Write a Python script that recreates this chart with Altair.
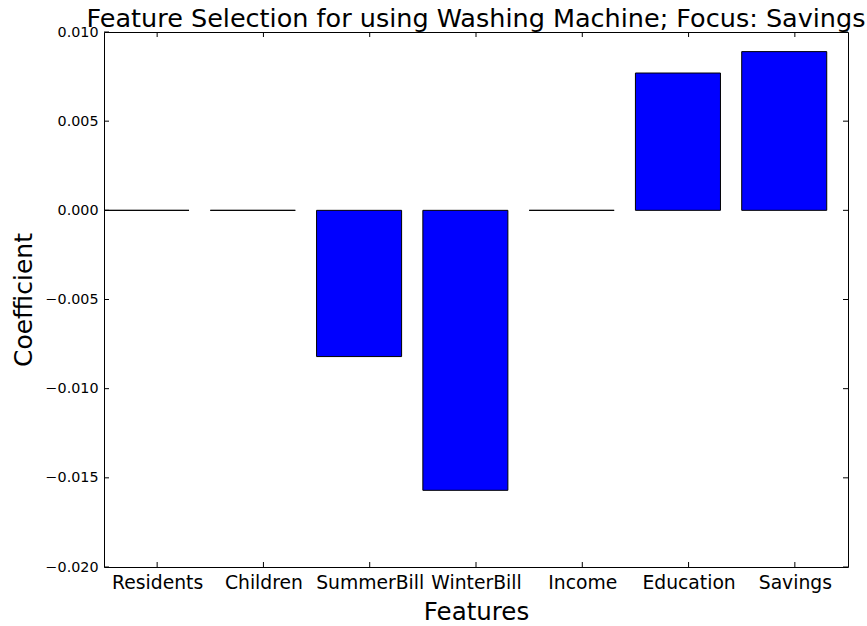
import altair as alt
import pandas as pd

# Lasso coefficients per feature
features = ["Residents", "Children", "SummerBill", "WinterBill", "Income", "Education", "Savings"]
coefficients = [0.0, 0.0, -0.0082, -0.0157, 0.0, 0.0077, 0.0089]
y_ticks = [-0.020, -0.015, -0.010, -0.005, 0.000, 0.005, 0.010]

W, H = 744, 535
FONT = "DejaVu Sans"

bars = pd.DataFrame({
    "feature": features,
    "coef": coefficients,
    "left": [i for i in range(len(features))],
    "right": [i + 0.8 for i in range(len(features))],
})
xtick_df = pd.DataFrame({"left": [i + 0.5 for i in range(len(features))]})
ytick_df = pd.DataFrame({"coef": y_ticks})

label_expr = "[" + ",".join("'%s'" % f for f in features) + "][floor(datum.value)]"

x_scale = alt.Scale(domain=[0, len(features)], nice=False, zero=False)
y_scale = alt.Scale(domain=[y_ticks[0], y_ticks[-1]], nice=False)

x_axis = alt.Axis(values=xtick_df["left"].tolist(), labelExpr=label_expr,
                  title="Features", ticks=False, domain=False, grid=False,
                  labelFontSize=18.75, labelPadding=6, labelFont=FONT,
                  labelColor="black", titleFont=FONT, titleFontSize=24.5,
                  titleFontWeight="normal", titleColor="black",
                  titleBaseline="alphabetic", titleY=52, titleX=W / 2)
y_axis = alt.Axis(values=y_ticks, format=".3f", title="Coefficient",
                  ticks=False, domain=False, grid=False,
                  labelFontSize=14.3, labelPadding=6, labelFont=FONT,
                  labelColor="black", titleFont=FONT, titleFontSize=25,
                  titleFontWeight="normal", titleColor="black",
                  titleBaseline="alphabetic", titleAngle=-90,
                  titleX=-73, titleY=H / 2)

bar_layer = alt.Chart(bars).mark_bar(
    color="#0000FF", stroke="black", strokeWidth=1
).encode(
    x=alt.X("left:Q", scale=x_scale, axis=x_axis),
    x2="right:Q",
    y=alt.Y("coef:Q", scale=y_scale, axis=y_axis),
    y2=alt.datum(0),
)

# inward-pointing tick marks on all four spines
tick_len = 5
left_ticks = alt.Chart(ytick_df).mark_rule(color="black", strokeWidth=1).encode(
    y=alt.Y("coef:Q", scale=y_scale, axis=y_axis),
    x=alt.value(0), x2=alt.value(tick_len))
right_ticks = alt.Chart(ytick_df).mark_rule(color="black", strokeWidth=1).encode(
    y=alt.Y("coef:Q", scale=y_scale, axis=y_axis),
    x=alt.value(W - tick_len), x2=alt.value(W))
bottom_ticks = alt.Chart(xtick_df).mark_rule(color="black", strokeWidth=1).encode(
    x=alt.X("left:Q", scale=x_scale, axis=x_axis),
    y=alt.value(H - tick_len), y2=alt.value(H))
top_ticks = alt.Chart(xtick_df).mark_rule(color="black", strokeWidth=1).encode(
    x=alt.X("left:Q", scale=x_scale, axis=x_axis),
    y=alt.value(0), y2=alt.value(tick_len))

chart = alt.layer(bar_layer, left_ticks, right_ticks, bottom_ticks, top_ticks).properties(
    width=W, height=H,
    title=alt.TitleParams("Feature Selection for using Washing Machine; Focus: Savings",
                          font=FONT, fontSize=25.5, fontWeight="normal", color="black",
                          anchor="middle", offset=1, dy=8),
    autosize=alt.AutoSizeParams(type="none"),
    padding={"left": 104, "top": 32, "right": 19, "bottom": 59},
).configure(
    background="white",
    view=alt.ViewConfig(stroke="black", strokeWidth=1),
)

chart.save("out.html", embed_options={"renderer": "svg", "actions": False})
